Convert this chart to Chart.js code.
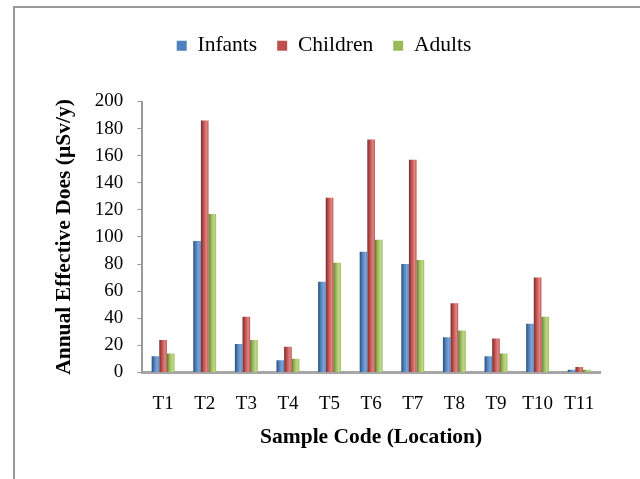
<!DOCTYPE html>
<html>
<head>
<meta charset="utf-8">
<script src="https://cdn.jsdelivr.net/npm/chart.js@4.4.1/dist/chart.umd.min.js"></script>
<style>
  html, body { margin: 0; padding: 0; background: #fff; }
  #wrap { position: relative; width: 640px; height: 479px; overflow: hidden; }
  #frame { position: absolute; left: 13px; top: 6px; width: 700px; height: 600px;
           border-left: 2px solid #999; border-top: 2px solid #999; }
  canvas { position: absolute; left: 0; top: 0; }
</style>
</head>
<body>
<div id="wrap">
  <div id="frame"></div>
  <canvas id="grafico" width="640" height="479"></canvas>
</div>
<script>
// datos
const categorias = ["T1", "T2", "T3", "T4", "T5", "T6", "T7", "T8", "T9", "T10", "T11"];
const infantes = [12, 97, 21, 9, 67, 89, 80, 26, 12, 36, 2];
const ninos = [24, 186, 41, 19, 129, 172, 157, 51, 25, 70, 4];
const adultos = [14, 117, 24, 10, 81, 98, 83, 31, 14, 41, 2];
const ticksY = [0, 20, 40, 60, 80, 100, 120, 140, 160, 180, 200];

const fuente = "'Liberation Serif', 'Times New Roman', serif";
const porcentajeCat = 0.55;

// sombreado tipo cilindro para cada barra
function gradienteBarra(c, base, oscuro, claro) {
    const chart = c.chart;
    const xs = chart.scales.x;
    if (c.type !== "data" || !xs || !xs.width) return base;
    const ancho = (xs.width / categorias.length) * porcentajeCat / 3;
    const centro = xs.getPixelForValue(c.dataIndex) + (c.datasetIndex - 1) * ancho;
    const g = chart.ctx.createLinearGradient(centro - ancho / 2, 0, centro + ancho / 2, 0);
    g.addColorStop(0, oscuro);
    g.addColorStop(0.35, base);
    g.addColorStop(0.75, claro);
    g.addColorStop(1, base);
    return g;
}

// espacio extra debajo de la leyenda
const margenLeyenda = {
    id: "margenLeyenda",
    beforeInit(chart) {
        const fit = chart.legend.fit;
        chart.legend.fit = function () {
            fit.bind(chart.legend)();
            this.height += 35;
        };
    }
};

const ctx = document.getElementById("grafico").getContext("2d");

const chart = new Chart(ctx, {
    type: "bar",
    data: {
        labels: categorias,
        datasets: [
            { label: "Infants", data: infantes,
              backgroundColor: (c) => gradienteBarra(c, "#4F81BD", "#2C4D75", "#7FA6D8") },
            { label: "Children", data: ninos,
              backgroundColor: (c) => gradienteBarra(c, "#C0504D", "#772C2A", "#DE8785") },
            { label: "Adults", data: adultos,
              backgroundColor: (c) => gradienteBarra(c, "#9BBB59", "#5F7530", "#BFD88C") }
        ]
    },
    options: {
        responsive: false,
        animation: false,
        layout: { padding: { left: 48, right: 40, top: 15, bottom: 25 } },
        datasets: {
            bar: { categoryPercentage: porcentajeCat, barPercentage: 1 }
        },
        plugins: {
            legend: {
                position: "top",
                labels: {
                    boxWidth: 10,
                    boxHeight: 10,
                    padding: 20,
                    color: "#000",
                    generateLabels: (chart) => {
                        const colores = ["#4F81BD", "#C0504D", "#9BBB59"];
                        return chart.data.datasets.map((d, i) => ({
                            text: d.label, fillStyle: colores[i], strokeStyle: colores[i],
                            lineWidth: 0, datasetIndex: i, fontColor: "#000"
                        }));
                    },
                    font: { family: fuente, size: 21.5 }
                }
            },
            tooltip: { enabled: false }
        },
        scales: {
            x: {
                grid: { display: false },
                border: { color: "#A6A6A6", width: 3 },
                ticks: { color: "#000", font: { family: fuente, size: 19 }, padding: 12, maxRotation: 0 },
                title: {
                    display: true,
                    text: "Sample Code (Location)",
                    color: "#000",
                    font: { family: fuente, size: 21.5, weight: "bold" },
                    padding: { top: -3, bottom: 4 }
                }
            },
            y: {
                min: 0,
                max: 200,
                afterBuildTicks: (scale) => {
                    scale.ticks = ticksY.map(v => ({ value: v }));
                },
                grid: { drawOnChartArea: false, color: "#999", tickLength: 5 },
                border: { color: "#999", width: 2 },
                ticks: { color: "#000", font: { family: fuente, size: 19 }, padding: 14 },
                title: {
                    display: true,
                    text: "Annual Effective Does (µSv/y)",
                    color: "#000",
                    font: { family: fuente, size: 21.5, weight: "bold" },
                    padding: { bottom: 3 }
                }
            }
        }
    },
    plugins: [margenLeyenda]
});
</script>
</body>
</html>
